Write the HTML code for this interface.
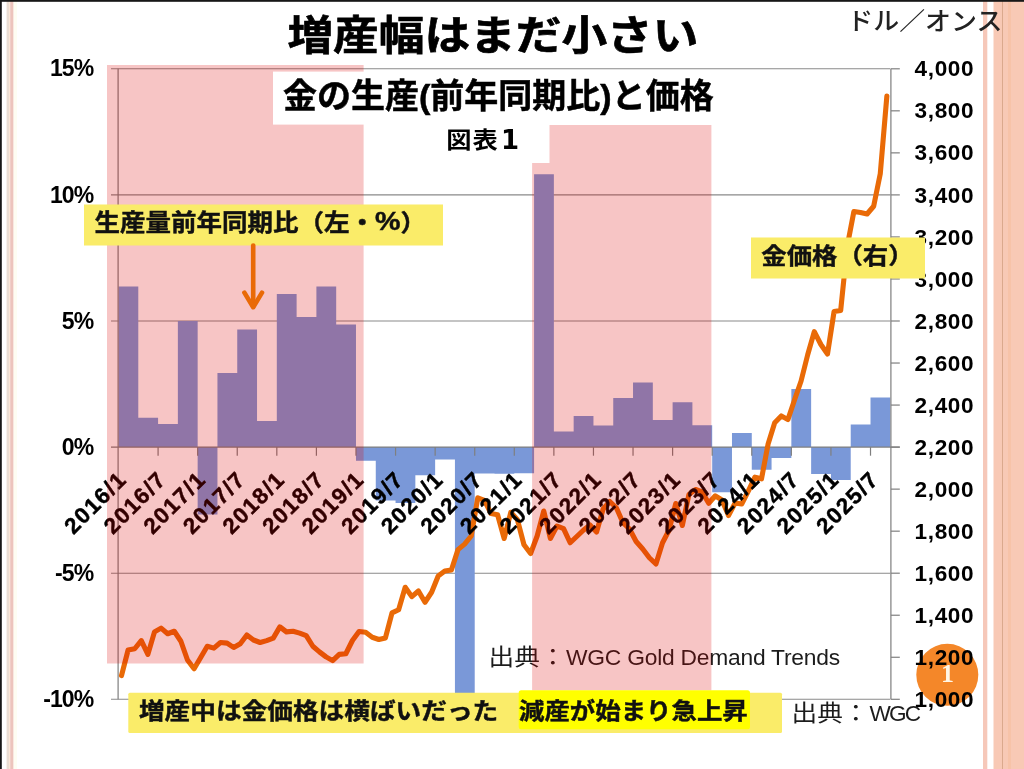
<!DOCTYPE html>
<html lang="ja"><head><meta charset="utf-8"><title>増産幅はまだ小さい</title>
<style>html,body{margin:0;padding:0;background:#fff;overflow:hidden}body{width:1024px;height:769px;position:relative;font-family:"Liberation Sans","Noto Sans CJK JP",sans-serif}svg{position:absolute;left:0;top:0;display:block}text{font-family:"Liberation Sans","Noto Sans CJK JP",sans-serif}.b{font-weight:bold}</style></head><body>
<svg width="1024" height="769" viewBox="0 0 1024 769">
<rect width="1024" height="769" fill="#fff"/>
<g id="stripes">
<rect x="6.6" y="0" width="2.4" height="769" fill="#eaddd3"/>
<rect x="9" y="0" width="1.2" height="769" fill="#fbe5d5"/>
<rect x="10.2" y="0" width="3.4" height="769" fill="#edc4bc"/>
<rect x="13.6" y="0" width="3.4" height="769" fill="#fefdf2"/>
<rect x="983" y="0" width="4.3" height="769" fill="#f6c8b9"/>
<rect x="993.5" y="0" width="30.5" height="769" fill="#f8c9b5"/>
<rect x="1002" y="0" width="1" height="769" fill="#dba98d"/>
<rect x="1008" y="0" width="3" height="769" fill="#f7c3a8"/>
</g>
<circle cx="947.3" cy="674.8" r="31" fill="#f48729"/>
<text x="947.6" y="681.6" text-anchor="middle" font-size="26" font-weight="bold" fill="#fff6e6" style="font-family:'Liberation Serif',serif">1</text>
<g stroke="#8a8a8a" stroke-width="1.1" fill="none">
<line x1="111" y1="68.8" x2="890.3" y2="68.8"/>
<line x1="111" y1="194.9" x2="890.3" y2="194.9"/>
<line x1="111" y1="321" x2="890.3" y2="321"/>
<line x1="111" y1="573.2" x2="890.3" y2="573.2"/>
<line x1="111" y1="699.3" x2="890.3" y2="699.3"/>
</g>
<path d="M118.5 447.1V286.5H138.29V417.75H158.08V424H177.87V321H197.66V514.5H217.45V373H237.24V329.5H257.03V421H276.82V294H296.61V317H316.4V286.5H336.19V324.5H355.98V460.7H375.77V500.6H395.56V502.9H415.35V475.25H435.14V459.4H454.93V700H474.72V473.5H494.51V473.8H514.29V473.3H534.08V174.25H553.87V431.6H573.66V416H593.45V425.4H613.24V397.9H633.03V382.6H652.82V420H672.61V402.25H692.4V425.2H712.19V492.25H731.98V433.1H751.77V469.75H771.56V457.9H791.35V389H811.14V474H830.93V480H850.72V424.4H870.51V397.5H890.3V447.1Z" fill="#7a98d8"/>
<g stroke="#7f7f7f" stroke-width="1.2" fill="none">
<line x1="118.1" y1="68.8" x2="118.1" y2="699.3"/>
<line x1="890.9" y1="68.8" x2="890.9" y2="699.3"/>
<line x1="111" y1="447.1" x2="899.8" y2="447.1"/>
<line x1="890.9" y1="68.8" x2="899.8" y2="68.8"/>
<line x1="890.9" y1="110.83" x2="899.8" y2="110.83"/>
<line x1="890.9" y1="152.87" x2="899.8" y2="152.87"/>
<line x1="890.9" y1="194.9" x2="899.8" y2="194.9"/>
<line x1="890.9" y1="236.93" x2="899.8" y2="236.93"/>
<line x1="890.9" y1="278.97" x2="899.8" y2="278.97"/>
<line x1="890.9" y1="321" x2="899.8" y2="321"/>
<line x1="890.9" y1="363.03" x2="899.8" y2="363.03"/>
<line x1="890.9" y1="405.07" x2="899.8" y2="405.07"/>
<line x1="890.9" y1="447.1" x2="899.8" y2="447.1"/>
<line x1="890.9" y1="489.13" x2="899.8" y2="489.13"/>
<line x1="890.9" y1="531.17" x2="899.8" y2="531.17"/>
<line x1="890.9" y1="573.2" x2="899.8" y2="573.2"/>
<line x1="890.9" y1="615.23" x2="899.8" y2="615.23"/>
<line x1="890.9" y1="657.27" x2="899.8" y2="657.27"/>
<line x1="890.9" y1="699.3" x2="899.8" y2="699.3"/>
<line x1="158.08" y1="447.1" x2="158.08" y2="455.7"/>
<line x1="197.66" y1="447.1" x2="197.66" y2="455.7"/>
<line x1="237.24" y1="447.1" x2="237.24" y2="455.7"/>
<line x1="276.82" y1="447.1" x2="276.82" y2="455.7"/>
<line x1="316.4" y1="447.1" x2="316.4" y2="455.7"/>
<line x1="355.98" y1="447.1" x2="355.98" y2="455.7"/>
<line x1="395.56" y1="447.1" x2="395.56" y2="455.7"/>
<line x1="435.14" y1="447.1" x2="435.14" y2="455.7"/>
<line x1="474.72" y1="447.1" x2="474.72" y2="455.7"/>
<line x1="514.29" y1="447.1" x2="514.29" y2="455.7"/>
<line x1="553.87" y1="447.1" x2="553.87" y2="455.7"/>
<line x1="593.45" y1="447.1" x2="593.45" y2="455.7"/>
<line x1="633.03" y1="447.1" x2="633.03" y2="455.7"/>
<line x1="672.61" y1="447.1" x2="672.61" y2="455.7"/>
<line x1="712.19" y1="447.1" x2="712.19" y2="455.7"/>
<line x1="751.77" y1="447.1" x2="751.77" y2="455.7"/>
<line x1="791.35" y1="447.1" x2="791.35" y2="455.7"/>
<line x1="830.93" y1="447.1" x2="830.93" y2="455.7"/>
<line x1="870.51" y1="447.1" x2="870.51" y2="455.7"/>
</g>
<polyline points="121.5,675.6 128.1,650 134.7,648.75 141.29,640.6 147.89,654.4 154.49,631.9 161.09,628.1 167.69,633.75 174.28,631.25 180.88,641.25 187.48,660 194.08,668.75 200.68,657.5 207.27,646.25 213.87,648.1 220.47,642.5 227.07,643.1 233.67,647.5 240.26,643.75 246.86,635 253.46,640 260.06,642.5 266.66,640.6 273.25,638.1 279.85,626.9 286.45,631.9 293.05,631.25 299.65,633.1 306.24,635.6 312.84,646.25 319.44,651.9 326.04,656.9 332.64,660.6 339.23,654.4 345.83,653.75 352.43,640.5 359.03,631.5 365.63,632.25 372.22,637.25 378.82,639.5 385.42,637.9 392.02,612.9 398.62,609.75 405.21,587.25 411.81,596.6 418.41,591 425.01,602.25 431.61,592.25 438.2,576 444.8,571 451.4,570 458,549.6 464.6,544.1 471.19,536 477.79,497.8 484.39,500.3 490.99,513.5 497.59,514.75 504.18,538.5 510.78,512.3 517.38,519.6 523.98,544.75 530.58,553.5 537.17,536 543.77,511 550.37,538.5 556.97,526 563.57,528.7 570.16,542.75 576.76,536.5 583.36,530.25 589.96,525 596.56,532 603.15,509 609.75,501.5 616.35,507.75 622.95,522.75 629.55,529 636.14,541.5 642.74,549 649.34,557.75 655.94,564 662.54,542.75 669.13,530 675.73,503.5 682.33,525.5 688.93,494.5 695.53,489.5 702.12,492 708.72,503.25 715.32,495.8 721.92,500 728.52,515.5 735.11,503 741.71,504 748.31,491.2 754.91,477.1 761.51,478.8 768.1,444 774.7,422.75 781.3,415.9 787.9,419.6 794.5,400 801.09,381 807.69,354.75 814.29,331.6 820.89,344.5 827.49,354 834.08,311.5 840.68,310.4 847.28,246 853.88,211.5 860.48,212.5 867.07,214 873.67,206.25 880.27,173.75 886.87,96" fill="none" stroke="#e96a07" stroke-width="5.1" stroke-linejoin="round" stroke-linecap="round"/>
<g class="b" font-size="22.4" fill="#000" text-anchor="end" letter-spacing="1.45" stroke="#000" stroke-width="0.45">
<text transform="translate(128.09 480.6) rotate(-45)">2016/1</text>
<text transform="translate(167.67 480.6) rotate(-45)">2016/7</text>
<text transform="translate(207.25 480.6) rotate(-45)">2017/1</text>
<text transform="translate(246.83 480.6) rotate(-45)">2017/7</text>
<text transform="translate(286.41 480.6) rotate(-45)">2018/1</text>
<text transform="translate(325.99 480.6) rotate(-45)">2018/7</text>
<text transform="translate(365.57 480.6) rotate(-45)">2019/1</text>
<text transform="translate(405.15 480.6) rotate(-45)">2019/7</text>
<text transform="translate(444.73 480.6) rotate(-45)">2020/1</text>
<text transform="translate(484.31 480.6) rotate(-45)">2020/7</text>
<text transform="translate(523.89 480.6) rotate(-45)">2021/1</text>
<text transform="translate(563.47 480.6) rotate(-45)">2021/7</text>
<text transform="translate(603.05 480.6) rotate(-45)">2022/1</text>
<text transform="translate(642.63 480.6) rotate(-45)">2022/7</text>
<text transform="translate(682.21 480.6) rotate(-45)">2023/1</text>
<text transform="translate(721.79 480.6) rotate(-45)">2023/7</text>
<text transform="translate(761.37 480.6) rotate(-45)">2024/1</text>
<text transform="translate(800.95 480.6) rotate(-45)">2024/7</text>
<text transform="translate(840.53 480.6) rotate(-45)">2025/1</text>
<text transform="translate(880.11 480.6) rotate(-45)">2025/7</text>
</g>
<g class="b" font-size="23" fill="#000" text-anchor="end" letter-spacing="-0.9">
<text x="93.3" y="76.4">15%</text>
<text x="93.3" y="202.5">10%</text>
<text x="93.3" y="328.6">5%</text>
<text x="93.3" y="454.7">0%</text>
<text x="93.3" y="580.8">-5%</text>
<text x="93.3" y="706.9">-10%</text>
</g>
<g class="b" font-size="22.6" fill="#000" letter-spacing="0.6">
<text x="914.6" y="76.4">4,000</text>
<text x="914.6" y="118.43">3,800</text>
<text x="914.6" y="160.47">3,600</text>
<text x="914.6" y="202.5">3,400</text>
<text x="914.6" y="244.53">3,200</text>
<text x="914.6" y="286.57">3,000</text>
<text x="914.6" y="328.6">2,800</text>
<text x="914.6" y="370.63">2,600</text>
<text x="914.6" y="412.67">2,400</text>
<text x="914.6" y="454.7">2,200</text>
<text x="914.6" y="496.73">2,000</text>
<text x="914.6" y="538.77">1,800</text>
<text x="914.6" y="580.8">1,600</text>
<text x="914.6" y="622.83">1,400</text>
<text x="914.6" y="664.87">1,200</text>
<text x="914.6" y="706.9">1,000</text>
</g>
<text transform="translate(488.6 664.7) scale(1.04 0.91)" font-size="24.7" fill="#1c1c1c">出典：</text>
<text x="566" y="665.3" font-size="22.8" fill="#1c1c1c" letter-spacing="-0.22">WGC Gold Demand Trends</text>
<g fill="rgb(220,0,0)" fill-opacity="0.228">
<rect x="107" y="65" width="256.6" height="598.5"/>
<path d="M549.5 125H711.4V690.5H532.1V163H549.5Z"/>
</g>
<rect x="273" y="71.6" width="441" height="53" fill="#fff"/>
<text transform="translate(287.4 49.9) scale(1.0265 0.918)" font-size="44.5" fill="#000" class="b" stroke="#000" stroke-width="0.7">増産幅はまだ小さい</text>
<text x="283" y="107.5" font-size="34" fill="#000" class="b" stroke="#000" stroke-width="0.5">金の生産(前年同期比)と価格</text>
<text transform="translate(446.2 147.8) scale(1.12 1.0)" font-size="22.6" fill="#000" class="b" letter-spacing="1.0" xml:space="preserve">図表 </text>
<text x="500.9" y="149" font-size="26" fill="#000" class="b" style="font-family:'DejaVu Sans',sans-serif">1</text>
<text transform="translate(847.3 29.8) scale(1.055 1.0)" font-size="24.6" fill="#222" font-weight="500">ドル／オンス</text>
<text transform="translate(791.6 720.6) scale(1.04 0.91)" font-size="24.7" fill="#1c1c1c">出典：</text>
<text x="869.6" y="721.3" font-size="22.6" fill="#1c1c1c" letter-spacing="-1.9">WGC</text>
<rect x="84" y="204.5" width="359" height="41" fill="#faec69"/>
<text transform="translate(94.6 230.5) scale(1.062 0.985)" font-size="24" fill="#111" class="b" stroke="#111" stroke-width="0.45">生産量前年同期比（左・<tspan font-size="27" dy="-0.3">%</tspan><tspan dy="0.3">）</tspan></text>
<rect x="751" y="237.5" width="174" height="41" fill="#faec69"/>
<text transform="translate(761.3 264.1) scale(1.058 0.955)" font-size="24" fill="#111" class="b" stroke="#111" stroke-width="0.45">金価格（右）</text>
<rect x="128.3" y="692.7" width="653.7" height="40.3" rx="1.5" fill="#faec69"/>
<rect x="518.7" y="690.3" width="231.3" height="38.9" rx="2.5" fill="#ffff00"/>
<text transform="translate(138.9 719.2) scale(1.07 0.93)" font-size="24" fill="#111" class="b" stroke="#111" stroke-width="0.45">増産中は金価格は横ばいだった</text>
<text transform="translate(519 719.2) scale(1.06 0.945)" font-size="24" fill="#111" class="b" stroke="#111" stroke-width="0.45">減産が始まり急上昇</text>
<g stroke="#e96a07" stroke-width="4.6" fill="none" stroke-linecap="round" stroke-linejoin="round">
<path d="M253.2 245.5V306"/><path d="M244.4 292.6L253.2 307.2L262 292.6"/></g>
<rect x="0" y="0" width="1024" height="1.8" fill="#171717"/>
<rect x="0" y="0" width="1.8" height="769" fill="#171717"/>
</svg></body></html>
